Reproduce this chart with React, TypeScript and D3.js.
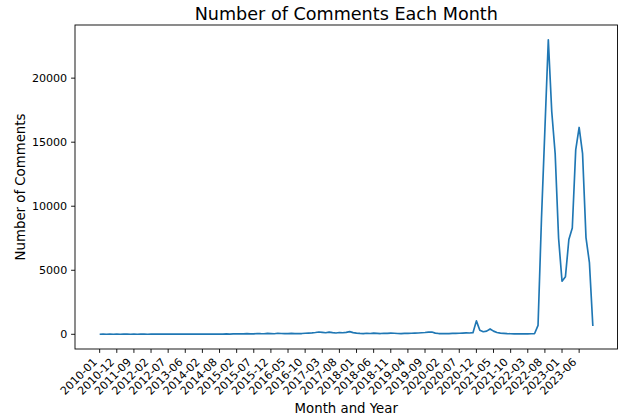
import React from "react";
import * as d3 from "d3";

const months: string[] = [
  "2010-01", "2010-03", "2010-05", "2010-08", "2010-10", "2010-12",
  "2011-02", "2011-04", "2011-05", "2011-07", "2011-09", "2011-10", "2011-11", "2011-12",
  "2012-01", "2012-02", "2012-03", "2012-04", "2012-05", "2012-06", "2012-07", "2012-09", "2012-11",
  "2013-01", "2013-03", "2013-06", "2013-08", "2013-09", "2013-11",
  "2014-01", "2014-02", "2014-03", "2014-04", "2014-06", "2014-07", "2014-08", "2014-09", "2014-10", "2014-12",
  "2015-01", "2015-02", "2015-03", "2015-04", "2015-05", "2015-06", "2015-07", "2015-08", "2015-09", "2015-10", "2015-11", "2015-12",
  "2016-01", "2016-02", "2016-03", "2016-04", "2016-05", "2016-06", "2016-07", "2016-08", "2016-09", "2016-10", "2016-11", "2016-12",
  "2017-01", "2017-02", "2017-03", "2017-04", "2017-05", "2017-06", "2017-07", "2017-08", "2017-09", "2017-10", "2017-11", "2017-12",
  "2018-01", "2018-02", "2018-03", "2018-04", "2018-05", "2018-06", "2018-07", "2018-08", "2018-09", "2018-10", "2018-11", "2018-12",
  "2019-01", "2019-02", "2019-03", "2019-04", "2019-05", "2019-06", "2019-07", "2019-08", "2019-09", "2019-10", "2019-11", "2019-12",
  "2020-01", "2020-02", "2020-03", "2020-04", "2020-05", "2020-06", "2020-07", "2020-08", "2020-09", "2020-10", "2020-11", "2020-12",
  "2021-01", "2021-02", "2021-03", "2021-04", "2021-05", "2021-06", "2021-07", "2021-08", "2021-09", "2021-10", "2021-11", "2021-12",
  "2022-01", "2022-02", "2022-03", "2022-04", "2022-05", "2022-06", "2022-07", "2022-08", "2022-09", "2022-10", "2022-11", "2022-12",
  "2023-01", "2023-02", "2023-03", "2023-04", "2023-05", "2023-06", "2023-07", "2023-08", "2023-09", "2023-10",
];

const comments: number[] = [
  3, 8, 5, 12, 6, 10, 4, 9, 15, 7,
  11, 6, 14, 9, 5, 12, 18, 10, 8, 13,
  16, 9, 12, 20, 14, 11, 17, 10, 15, 22,
  13, 18, 12, 25, 16, 20, 14, 28, 19, 30,
  45, 30, 38, 55, 40, 35, 60, 48, 42, 70,
  55, 45, 80, 62, 50, 58, 75, 52, 48, 60,
  85, 95, 110, 140, 180, 150, 120, 170, 130, 100,
  140, 120, 150, 210, 130, 90, 70, 60, 80, 65,
  90, 75, 60, 85, 70, 95, 80, 65, 60, 75,
  70, 85, 90, 100, 120, 140, 170, 180, 90, 60,
  50, 55, 60, 70, 75, 80, 95, 110, 100, 130,
  1050, 320, 200, 250, 420, 250, 140, 90, 70, 50,
  45, 40, 45, 40, 35, 40, 45, 60, 700, 9000,
  16000, 23000, 17400, 14100, 7500, 4150, 4500, 7400, 8300, 14400,
  16150, 14100, 7550, 5600, 650,
];

const yTicks: number[] = [0, 5000, 10000, 15000, 20000];
const tickEvery = 5;

const W = 618;
const H = 417;
const left = 75;
const right = 617.5;
const top = 25;
const bottom = 349;
const font = "DejaVu Sans";

export default function App() {
  const n = comments.length;
  const xm = (n - 1) * 0.05;
  const x = d3.scaleLinear().domain([-xm, n - 1 + xm]).range([left, right]);
  const yMin = d3.min(comments)!;
  const yMax = d3.max(comments)!;
  const ym = (yMax - yMin) * 0.05;
  const y = d3.scaleLinear().domain([yMin - ym, yMax + ym]).range([bottom, top]);

  const line = d3
    .line<number>()
    .x((_, i) => x(i))
    .y((d) => y(d));

  const xTickIdx = d3.range(0, n, tickEvery);
  const tickLen = 3.9;
  const pad = 3.9;
  const fs = 11.1;

  return (
    <svg
      width={W}
      height={H}
      style={{ position: "absolute", left: 0, top: 0, background: "#fff" }}
      fontFamily={font}
    >
      <rect x={0} y={0} width={W} height={H} fill="#fff" />
      <text x={(left + right) / 2} y={20} textAnchor="middle" fontSize={17.6} fill="#000">
        Number of Comments Each Month
      </text>
      <path
        d={line(comments) ?? ""}
        fill="none"
        stroke="#1f77b4"
        strokeWidth={1.67}
        strokeLinejoin="round"
      />
      <rect
        x={left}
        y={top}
        width={right - left}
        height={bottom - top}
        fill="none"
        stroke="#000"
        strokeWidth={0.9}
      />
      {yTicks.map((t) => (
        <g key={t}>
          <line x1={left - tickLen} x2={left} y1={y(t)} y2={y(t)} stroke="#000" strokeWidth={0.9} />
          <text
            x={left - tickLen - pad}
            y={y(t)}
            dy="0.36em"
            textAnchor="end"
            fontSize={fs}
            fill="#000"
          >
            {t}
          </text>
        </g>
      ))}
      {xTickIdx.map((i) => {
        const tx = x(i);
        const y0 = bottom + tickLen + pad;
        return (
          <g key={i}>
            <line x1={tx} x2={tx} y1={bottom} y2={bottom + tickLen} stroke="#000" strokeWidth={0.9} />
            <text
              transform={`translate(${tx - 1.8},${y0 + 6}) rotate(-45)`}
              textAnchor="end"
              fontSize={fs}
              fill="#000"
            >
              {months[i]}
            </text>
          </g>
        );
      })}
      <text x={(left + right) / 2} y={413} textAnchor="middle" fontSize={13.3} fill="#000">
        Month and Year
      </text>
      <text
        transform={`translate(24.5,${(top + bottom) / 2}) rotate(-90)`}
        textAnchor="middle"
        fontSize={13.3}
        fill="#000"
      >
        Number of Comments
      </text>
    </svg>
  );
}
